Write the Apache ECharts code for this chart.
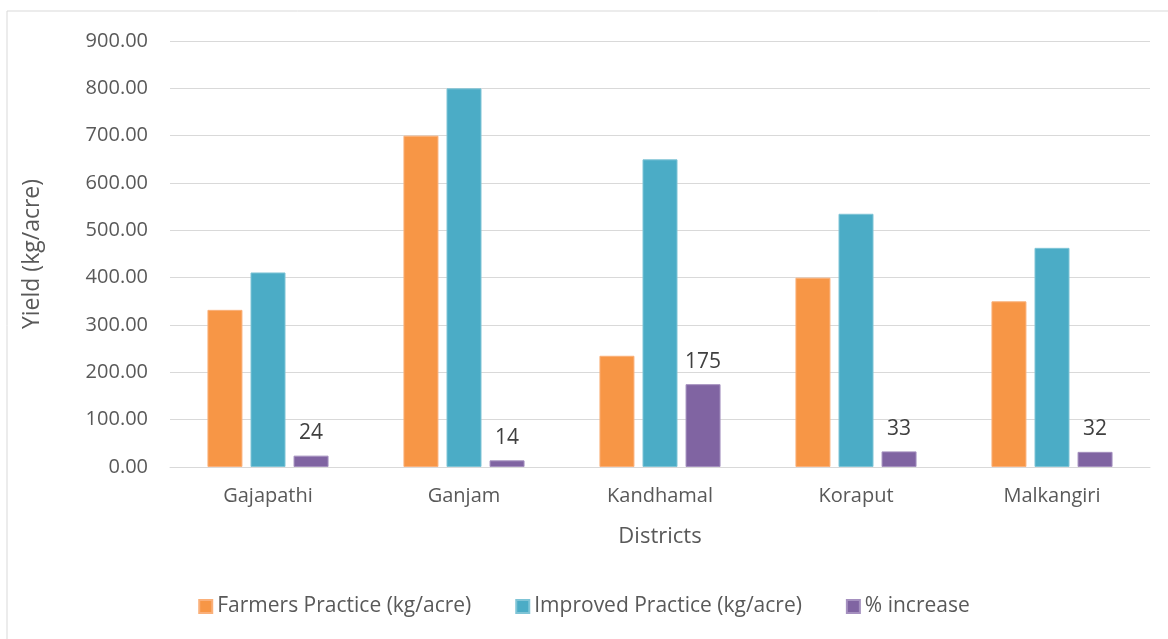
<!DOCTYPE html>
<html>
<head>
<meta charset="utf-8">
<script src="https://cdn.jsdelivr.net/npm/echarts@6/dist/echarts.min.js"></script>
<style>
  html, body { margin: 0; padding: 0; background: #fff; }
  #chart { width: 1168px; height: 639px; }
</style>
</head>
<body>
<div id="chart"></div>
<script>
// districts and yields
var districts = ['Gajapathi', 'Ganjam', 'Kandhamal', 'Koraput', 'Malkangiri'];
var farmersPractice = [332, 700, 235, 400, 350];
var improvedPractice = [411, 800, 650, 535, 463];
var pctIncrease = [24, 14, 175, 33, 32];
var yTicks = [0, 100, 200, 300, 400, 500, 600, 700, 800, 900];

var font = 'Open Sans';
var textGrey = '#595959';

var myChart = echarts.init(document.getElementById('chart'));
var option = {
  animation: false,
  textStyle: { fontFamily: font },
  graphic: [{
    type: 'rect',
    shape: { x: 7, y: 11, width: 1180, height: 660 },
    style: { fill: 'none', stroke: '#d9d9d9', lineWidth: 1 }
  }],
  grid: { left: 170, right: 18, top: 41, bottom: 172 },
  legend: {
    bottom: 17,
    left: 'center',
    itemWidth: 13,
    itemHeight: 13,
    itemGap: 44,
    icon: 'rect',
    textStyle: { fontFamily: font, fontSize: 21, color: textGrey },
    data: ['Farmers Practice (kg/acre)', 'Improved Practice (kg/acre)', '% increase']
  },
  xAxis: {
    type: 'category',
    data: districts,
    name: 'Districts',
    nameLocation: 'middle',
    nameGap: 59,
    nameTextStyle: { fontSize: 22, color: textGrey },
    axisLine: { lineStyle: { color: '#d9d9d9', width: 1 } },
    axisTick: { show: false },
    axisLabel: { margin: 19, fontSize: 20, color: textGrey }
  },
  yAxis: {
    type: 'value',
    min: yTicks[0],
    max: yTicks[yTicks.length - 1],
    interval: 100,
    name: 'Yield (kg/acre)',
    nameLocation: 'middle',
    nameGap: 126,
    nameTextStyle: { fontSize: 23, color: textGrey },
    axisLine: { show: false },
    axisTick: { show: false },
    splitLine: { lineStyle: { color: '#d9d9d9', width: 1 } },
    axisLabel: {
      margin: 22, fontSize: 20, color: textGrey,
      formatter: function (v) { return v.toFixed(2); }
    }
  },
  series: [
    {
      name: 'Farmers Practice (kg/acre)',
      type: 'bar',
      data: farmersPractice,
      barWidth: 35,
      barGap: '23%',
      itemStyle: { color: '#F79646', borderColor: '#fab07a', borderWidth: 1 }
    },
    {
      name: 'Improved Practice (kg/acre)',
      type: 'bar',
      data: improvedPractice,
      barWidth: 35,
      barGap: '23%',
      itemStyle: { color: '#4BACC6', borderColor: '#7fc4d6', borderWidth: 1 }
    },
    {
      name: '% increase',
      type: 'bar',
      data: pctIncrease,
      barWidth: 35,
      barGap: '23%',
      itemStyle: { color: '#8064A2', borderColor: '#a590bf', borderWidth: 1 },
      label: {
        show: true,
        position: 'top',
        distance: 12,
        fontSize: 21,
        color: '#404040'
      }
    }
  ]
};
myChart.setOption(option);
</script>
</body>
</html>
